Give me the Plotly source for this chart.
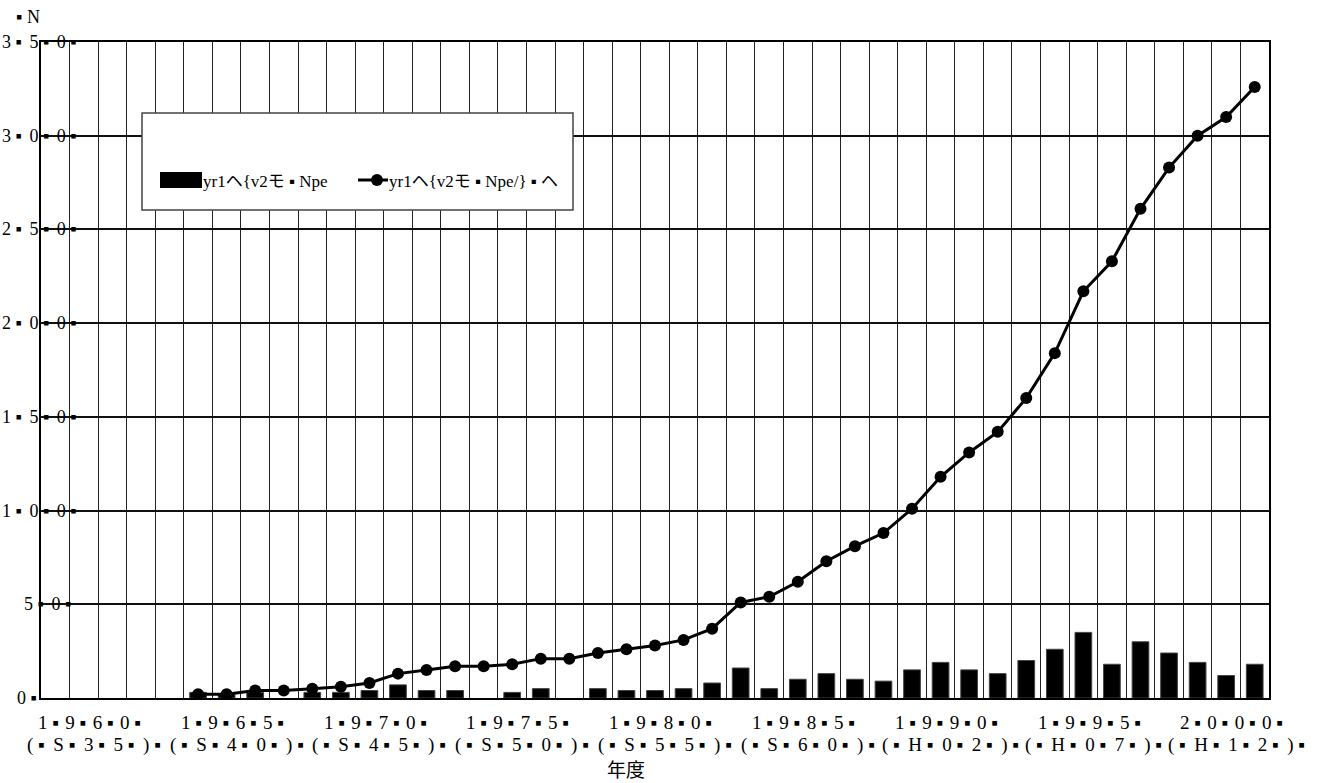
import plotly.graph_objects as go

# Fiscal years on the category axis (1960 .. 2002)
years = list(range(1960, 2003))

# Yearly count (bars); None where nothing was recorded
yearly = [None, None, None, None, None,
          3, 2, 3, None, 3, 3, 4, 7, 4, 4, None, 3, 5, None,
          5, 4, 4, 5, 8, 16, 5, 10, 13, 10, 9, 15, 19, 15, 13,
          20, 26, 35, 18, 30, 24, 19, 12, 18]

# Running total (line with markers)
running = [None, None, None, None, None,
           2, 2, 4, 4, 5, 6, 8, 13, 15, 17, 17, 18, 21, 21,
           24, 26, 28, 31, 37, 51, 54, 62, 73, 81, 88, 101, 118, 131, 142,
           160, 184, 217, 233, 261, 283, 300, 310, 326]

# Axis label characters (each character is followed by a "▪" filler)
x_top_chars = ["1960", "1965", "1970", "1975", "1980", "1985", "1990", "1995", "2000"]
x_bottom_chars = ["(S35)", "(S40)", "(S45)", "(S50)", "(S55)", "(S60)", "(H02)", "(H07)", "(H12)"]
y_tick_values = [0, 50, 100, 150, 200, 250, 300, 350]
y_tick_chars = ["0", "50", "100", "150", "200", "250", "300", "350"]
y_unit = "▪ N"
x_title = "年度"
legend_bar = "yr1ヘ{v2モ ▪ Npe"
legend_line = "yr1ヘ{v2モ ▪ Npe/} ▪ ヘ"


def spread(chars, gap):
    return (" ▪" + gap + " ").join(chars) + " ▪"


x_top_labels = [spread(c, "\u200a") for c in x_top_chars]
x_bottom_labels = [spread(c, "\u2009") for c in x_bottom_chars]
y_tick_texts = [spread(c, "\u200a\u200a") for c in y_tick_chars]

SERIF = "Liberation Serif, DejaVu Serif, Noto Sans CJK JP, serif"

xi = list(range(len(years)))

fig = go.Figure()
fig.add_trace(go.Bar(
    x=xi, y=yearly, width=0.585,
    marker=dict(color="black", line=dict(color="#444", width=1)),
    showlegend=False,
))
fig.add_trace(go.Scatter(
    x=xi, y=running, mode="lines+markers",
    line=dict(color="black", width=3),
    marker=dict(color="black", size=12),
    showlegend=False,
))

W, H = 1327, 783
L, R, T, B = 41, 58, 42, 85
plot_w = W - L - R
plot_h = H - T - B


def px_x(p):
    return (p - L) / plot_w


def px_y(p):
    return (H - B - p) / plot_h


annotations = []
# x-axis labels, one pair every five years
for k, (t1, t2) in enumerate(zip(x_top_labels, x_bottom_labels)):
    xc = 1.2 + 5 * k
    annotations.append(dict(x=xc, y=0, xref="x", yref="paper", text=t1, showarrow=False,
                            xanchor="center", yanchor="middle", yshift=-24,
                            font=dict(family=SERIF, size=19, color="black")))
    annotations.append(dict(x=xc + 0.15, y=0, xref="x", yref="paper", text=t2, showarrow=False,
                            xanchor="center", yanchor="middle", yshift=-47,
                            font=dict(family=SERIF, size=19, color="black")))

# y-axis labels
for v, c, t in zip(y_tick_values, y_tick_chars, y_tick_texts):
    left_px = {1: 15, 2: 22, 3: 0}[len(c)]
    annotations.append(dict(x=px_x(left_px), y=v, xref="paper", yref="y", text=t,
                            showarrow=False, xanchor="left", yanchor="middle",
                            font=dict(family=SERIF, size=18, color="black")))

annotations.append(dict(x=px_x(14), y=px_y(17), xref="paper", yref="paper", text=y_unit,
                        showarrow=False, xanchor="left", yanchor="middle",
                        font=dict(family=SERIF, size=18, color="black")))
annotations.append(dict(x=20, y=px_y(768), xref="x", yref="paper", text=x_title,
                        showarrow=False, xanchor="center", yanchor="middle",
                        font=dict(family="Noto Sans CJK JP", size=19, color="black")))

# legend texts
annotations.append(dict(x=px_x(201), y=px_y(181), xref="paper", yref="paper", text=legend_bar,
                        showarrow=False, xanchor="left", yanchor="middle",
                        font=dict(family=SERIF, size=17, color="black")))
annotations.append(dict(x=px_x(387), y=px_y(181), xref="paper", yref="paper", text=legend_line,
                        showarrow=False, xanchor="left", yanchor="middle",
                        font=dict(family=SERIF, size=17, color="black")))

shapes = [
    # legend frame
    dict(type="rect", xref="paper", yref="paper",
         x0=px_x(142), x1=px_x(573), y0=px_y(113), y1=px_y(210),
         line=dict(color="#444", width=1.5), fillcolor="white", layer="above"),
    # legend swatches
    dict(type="rect", xref="paper", yref="paper",
         x0=px_x(160), x1=px_x(202), y0=px_y(172), y1=px_y(188),
         line=dict(width=0), fillcolor="black", layer="above"),
    dict(type="line", xref="paper", yref="paper",
         x0=px_x(358), x1=px_x(388), y0=px_y(180), y1=px_y(180),
         line=dict(color="black", width=3), layer="above"),
    dict(type="circle", xref="paper", yref="paper",
         x0=px_x(371), x1=px_x(383), y0=px_y(174), y1=px_y(186),
         line=dict(width=0), fillcolor="black", layer="above"),
]

fig.update_layout(
    width=W, height=H,
    margin=dict(l=L, r=R, t=T, b=B),
    paper_bgcolor="white", plot_bgcolor="white",
    bargap=0.4,
    xaxis=dict(range=[-0.5, len(years) - 0.5], tick0=-0.5, dtick=1,
               showticklabels=False, ticks="",
               showgrid=True, gridcolor="#222", gridwidth=1,
               showline=True, linecolor="black", linewidth=2, mirror=True,
               zeroline=False, fixedrange=True),
    yaxis=dict(range=[0, 350], tick0=0, dtick=50,
               showticklabels=False, ticks="",
               showgrid=True, gridcolor="#111", gridwidth=2,
               showline=True, linecolor="black", linewidth=2, mirror=True,
               zeroline=False, fixedrange=True),
    annotations=annotations,
    shapes=shapes,
    font=dict(family=SERIF, color="black"),
)

fig.write_html("out.html")
